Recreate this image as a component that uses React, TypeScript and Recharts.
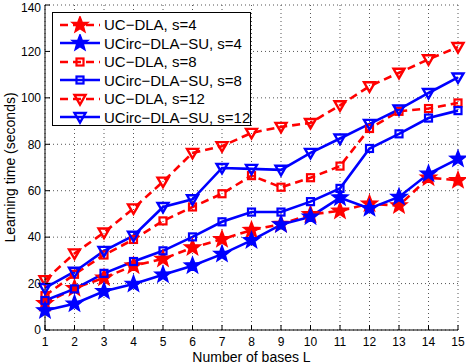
import React from 'react';
import { LineChart, Line, XAxis, YAxis, CartesianGrid, Legend } from 'recharts';

// number of bases L
const bases = [1, 2, 3, 4, 5, 6, 7, 8, 9, 10, 11, 12, 13, 14, 15];

// learning time (seconds)
const ucS4 = [11.5, 18, 22.5, 27.7, 30.6, 35.5, 39.1, 43, 45.6, 49.8, 51.3, 54.4, 53.6, 65.6, 64.5];
const ucircS4 = [8.4, 11.3, 16.7, 19.8, 23.8, 27.7, 32.7, 38.6, 45.4, 48.8, 57, 52.4, 57.3, 67.3, 73.7];
const ucS8 = [14.8, 24, 32.3, 39, 47, 53, 58.7, 66.5, 61.5, 65.6, 70.6, 86.8, 94.2, 95.4, 97.8];
const ucircS8 = [12.7, 17.7, 24.4, 29.5, 34.1, 40.1, 46.6, 50.8, 50.8, 55.3, 61, 78.2, 84.5, 91.3, 94.5];
const ucS12 = [21.5, 33, 42, 52.4, 63.9, 76.3, 79.2, 84.9, 87.5, 89.2, 96.8, 105, 110.8, 116.6, 121.9];
const ucircS12 = [18.1, 25.1, 34.1, 40.6, 53, 56.3, 69.8, 69.4, 69, 76.3, 82.5, 88.8, 95, 102.1, 108.8];

const yTicks = [0, 20, 40, 60, 80, 100, 120, 140];

const RED = '#ff0000';
const BLUE = '#0000ff';
const FONT = '"Liberation Sans", Arial, Helvetica, sans-serif';

type MarkerKind = 'star' | 'square' | 'triangle';

const series: { key: string; name: string; color: string; dashed: boolean; marker: MarkerKind }[] = [
    { key: 'ucS4', name: 'UC\u2212DLA, s=4', color: RED, dashed: true, marker: 'star' },
    { key: 'ucircS4', name: 'UCirc\u2212DLA\u2212SU, s=4', color: BLUE, dashed: false, marker: 'star' },
    { key: 'ucS8', name: 'UC\u2212DLA, s=8', color: RED, dashed: true, marker: 'square' },
    { key: 'ucircS8', name: 'UCirc\u2212DLA\u2212SU, s=8', color: BLUE, dashed: false, marker: 'square' },
    { key: 'ucS12', name: 'UC\u2212DLA, s=12', color: RED, dashed: true, marker: 'triangle' },
    { key: 'ucircS12', name: 'UCirc\u2212DLA\u2212SU, s=12', color: BLUE, dashed: false, marker: 'triangle' },
];

const data = bases.map((L, i) => ({
    L,
    ucS4: ucS4[i],
    ucircS4: ucircS4[i],
    ucS8: ucS8[i],
    ucircS8: ucircS8[i],
    ucS12: ucS12[i],
    ucircS12: ucircS12[i],
}));

const starPoints = (cx: number, cy: number, R: number) => {
    const pts: string[] = [];
    for (let i = 0; i < 10; i++) {
        const r = i % 2 === 0 ? R : R * 0.42;
        const a = ((-90 + i * 36) * Math.PI) / 180;
        pts.push(`${cx + r * Math.cos(a)},${cy + r * Math.sin(a)}`);
    }
    return pts.join(' ');
};

const Marker = ({ kind, cx, cy, color }: { kind: MarkerKind; cx: number; cy: number; color: string }) => {
    if (kind === 'star') {
        return <polygon points={starPoints(cx, cy, 8.5)} fill={color} stroke={color} strokeWidth={1.4} strokeLinejoin="miter" />;
    }
    if (kind === 'square') {
        return <rect x={cx - 3.5} y={cy - 3.5} width={7} height={7} fill="none" stroke={color} strokeWidth={2.2} />;
    }
    return (
        <polygon
            points={`${cx - 5.5},${cy - 4} ${cx + 5.5},${cy - 4} ${cx},${cy + 5.5}`}
            fill="none"
            stroke={color}
            strokeWidth={2.4}
            strokeLinejoin="miter"
        />
    );
};

const renderDot = (kind: MarkerKind, color: string) => (props: any) => {
    const { cx, cy, index } = props;
    if (cx == null || cy == null) return <g key={`d-${index}`} />;
    return (
        <g key={`d-${index}`}>
            <Marker kind={kind} cx={cx} cy={cy} color={color} />
        </g>
    );
};

const BottomTick = (props: any) => {
    const { x, y, payload } = props;
    return (
        <g>
            <line x1={x} y1={y} x2={x} y2={y - 5} stroke="#000" strokeWidth={1} />
            <text x={x} y={y + 15.5} textAnchor="middle" fontSize={12} fontFamily={FONT} fill="#000">
                {payload.value}
            </text>
        </g>
    );
};

const TopTick = (props: any) => {
    const { x, y } = props;
    return <line x1={x} y1={y} x2={x} y2={y + 5} stroke="#000" strokeWidth={1} />;
};

const LeftTick = (props: any) => {
    const { x, y, payload } = props;
    // keep the top label inside the page
    const baseline = Math.max(y + 4.3, 11.5);
    return (
        <g>
            <line x1={x} y1={y} x2={x + 5} y2={y} stroke="#000" strokeWidth={1} />
            <text x={x - 4} y={baseline} textAnchor="end" fontSize={12} fontFamily={FONT} fill="#000">
                {payload.value}
            </text>
        </g>
    );
};

const RightTick = (props: any) => {
    const { x, y } = props;
    return <line x1={x} y1={y} x2={x - 5} y2={y} stroke="#000" strokeWidth={1} />;
};

const LegendBox = () => (
    <div
        style={{
            border: '1px solid #000',
            background: '#fff',
            width: 199,
            height: 114,
            boxSizing: 'border-box',
            paddingTop: 2.5,
            fontFamily: FONT,
            fontSize: 15,
        }}
    >
        {series.map((s) => (
            <div key={s.key} style={{ display: 'flex', alignItems: 'center', height: 18.5 }}>
                <svg width={50} height={18} style={{ flex: 'none', marginLeft: 6 }}>
                    <line
                        x1={1}
                        y1={9}
                        x2={41}
                        y2={9}
                        stroke={s.color}
                        strokeWidth={2.6}
                        strokeDasharray={s.dashed ? '8 5' : undefined}
                    />
                    <Marker kind={s.marker} cx={21} cy={9} color={s.color} />
                </svg>
                <span style={{ color: '#000', whiteSpace: 'nowrap', marginLeft: -5 }}>{s.name}</span>
            </div>
        ))}
    </div>
);

export default function App() {
    return (
        <div style={{ position: 'absolute', left: 0, top: 0, width: 466, height: 364, background: '#fff' }}>
            <LineChart width={466} height={364} data={data} margin={{ top: 5, right: 8, left: 0, bottom: 0 }}>
                <CartesianGrid stroke="#555" strokeDasharray="1 3" strokeWidth={1} />
                <XAxis
                    dataKey="L"
                    type="number"
                    domain={[1, 15]}
                    ticks={bases}
                    interval={0}
                    height={34}
                    tickSize={0}
                    tickMargin={0}
                    tick={<BottomTick />}
                    axisLine={{ stroke: '#000', strokeWidth: 1 }}
                    tickLine={false}
                    label={{
                        value: 'Number of bases L',
                        position: 'insideBottom',
                        offset: 2.5,
                        fontSize: 14,
                        fontFamily: FONT,
                        fill: '#000',
                    }}
                />
                <XAxis
                    xAxisId="top"
                    orientation="top"
                    dataKey="L"
                    type="number"
                    domain={[1, 15]}
                    ticks={bases}
                    interval={0}
                    height={0}
                    tickSize={0}
                    tickMargin={0}
                    tick={<TopTick />}
                    axisLine={{ stroke: '#000', strokeWidth: 1 }}
                    tickLine={false}
                />
                <YAxis
                    type="number"
                    domain={[0, 140]}
                    ticks={yTicks}
                    interval={0}
                    width={45}
                    tickSize={0}
                    tickMargin={0}
                    tick={<LeftTick />}
                    axisLine={{ stroke: '#000', strokeWidth: 1 }}
                    tickLine={false}
                    label={{
                        value: 'Learning time (seconds)',
                        angle: -90,
                        position: 'insideLeft',
                        offset: 10,
                        fontSize: 14,
                        fontFamily: FONT,
                        fill: '#000',
                        style: { textAnchor: 'middle' },
                    }}
                />
                <YAxis
                    yAxisId="right"
                    orientation="right"
                    type="number"
                    domain={[0, 140]}
                    ticks={yTicks}
                    interval={0}
                    width={0}
                    tickSize={0}
                    tickMargin={0}
                    tick={<RightTick />}
                    axisLine={{ stroke: '#000', strokeWidth: 1 }}
                    tickLine={false}
                />
                {series.map((s) => (
                    <Line
                        key={s.key}
                        dataKey={s.key}
                        name={s.name}
                        type="linear"
                        stroke={s.color}
                        strokeWidth={2.6}
                        strokeDasharray={s.dashed ? '8 5' : undefined}
                        dot={renderDot(s.marker, s.color)}
                        activeDot={false}
                        isAnimationActive={false}
                    />
                ))}
                <Legend
                    layout="vertical"
                    align="center"
                    verticalAlign="middle"
                    wrapperStyle={{ left: 52, top: 12, width: 199, height: 114 }}
                    content={() => <LegendBox />}
                />
            </LineChart>
        </div>
    );
}
